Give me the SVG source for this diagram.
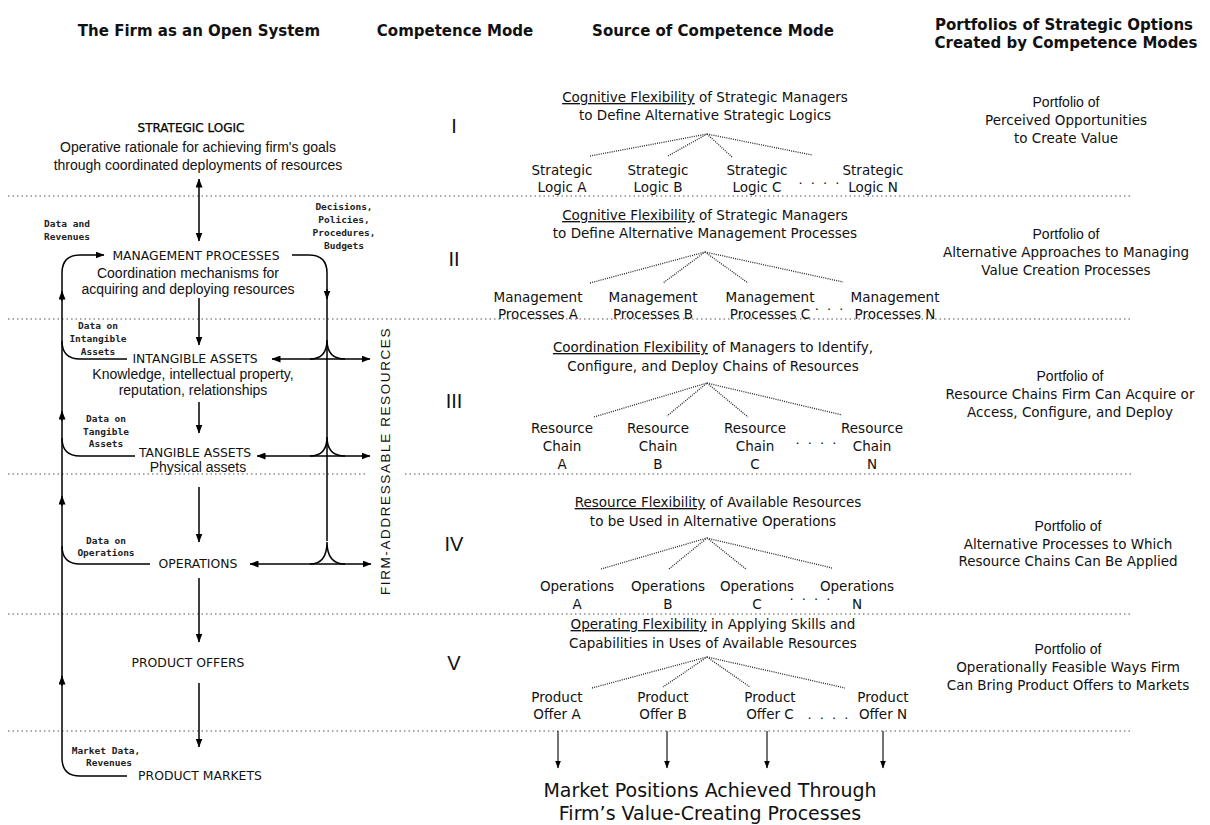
<svg xmlns="http://www.w3.org/2000/svg" width="1210" height="825" viewBox="0 0 1210 825">
<defs>
<marker id="ah" markerWidth="9" markerHeight="7" refX="8.5" refY="3.5" orient="auto-start-reverse" markerUnits="userSpaceOnUse">
<path d="M0,0 L9,3.5 L0,7 z" fill="#000"/>
</marker>
<marker id="ahs" markerWidth="8" markerHeight="6" refX="7.5" refY="3" orient="auto-start-reverse" markerUnits="userSpaceOnUse">
<path d="M0,0 L8,3 L0,6 z" fill="#000"/>
</marker>
<style>
.hdr{font-family:"DejaVu Sans",sans-serif;font-weight:bold;font-size:15px;fill:#111;text-anchor:middle}
.ttl{font-family:"DejaVu Sans",sans-serif;font-size:12.4px;fill:#111;text-anchor:middle}
.ttlb{font-family:"DejaVu Sans",sans-serif;font-size:12px;fill:#000;stroke:#000;stroke-width:0.25;text-anchor:middle}
.desc{font-family:"Liberation Sans",Arial,sans-serif;font-size:14px;fill:#111;text-anchor:middle}
.sm{font-family:"DejaVu Sans Mono",monospace;font-size:9.5px;font-weight:bold;fill:#222;text-anchor:middle}
.mid{font-family:"DejaVu Sans",sans-serif;font-size:13.5px;fill:#111;text-anchor:middle}
.big{font-family:"DejaVu Sans",sans-serif;font-size:19px;fill:#111;text-anchor:middle}
.num{font-family:"Liberation Sans",sans-serif;font-size:20px;fill:#111;text-anchor:middle}
.pf{font-family:"Liberation Sans",sans-serif;font-size:14px;fill:#111;text-anchor:middle}
.rt{font-family:"DejaVu Sans",sans-serif;font-size:13.5px;fill:#111;text-anchor:middle}
.vt{font-family:"Liberation Sans",sans-serif;font-size:13.5px;letter-spacing:1.6px;fill:#111;text-anchor:middle}
.dots{font-family:"DejaVu Sans",sans-serif;font-size:13px;fill:#111;text-anchor:middle;letter-spacing:2px}
.u{text-decoration:underline}
.div{stroke:#555;stroke-width:1.2;stroke-dasharray:1.5 3;fill:none}
.fan{stroke:#222;stroke-width:1.3;stroke-dasharray:1 1.2;fill:none}
.ln{stroke:#000;stroke-width:1.5;fill:none}
.thin{stroke:#000;stroke-width:1.1;fill:none}
</style>
</defs>
<rect width="1210" height="825" fill="#fff"/>

<g id="headers">
<text class="hdr" x="199" y="36">The Firm as an Open System</text>
<text class="hdr" x="455" y="36">Competence Mode</text>
<text class="hdr" x="713" y="36">Source of Competence Mode</text>
<text class="hdr" x="1064" y="30">Portfolios of Strategic Options</text>
<text class="hdr" x="1066" y="48">Created by Competence Modes</text>
</g>

<g id="dividers">
<path class="div" d="M8 196H1133M8 319H1133M8 474H367M405 474H1133M8 614H1133M8 731H1133"/>
</g>

<g id="connectors">
<path class="ln" d="M199 241V179" marker-start="url(#ah)" marker-end="url(#ah)"/>
<path class="ln" d="M199 298V345" marker-end="url(#ah)"/>
<path class="ln" d="M199 402V433" marker-end="url(#ah)"/>
<path class="ln" d="M199 487V542" marker-end="url(#ah)"/>
<path class="ln" d="M199 578V642" marker-end="url(#ah)"/>
<path class="ln" d="M199 683V747" marker-end="url(#ah)"/>
<path class="ln" d="M127 776H80Q62 776 62 758V273Q62 255 80 255H104" marker-end="url(#ah)"/>
<path class="ln" d="M127 359H80Q62 359 62 341"/>
<path class="ln" d="M135 456H80Q62 456 62 438"/>
<path class="ln" d="M150 564H80Q62 564 62 546"/>
<path class="ln" d="M62 301V291" marker-end="url(#ah)"/>
<path class="ln" d="M62 421V411" marker-end="url(#ah)"/>
<path class="ln" d="M62 506V496" marker-end="url(#ah)"/>
<path class="ln" d="M62 686V676" marker-end="url(#ah)"/>
<path class="ln" d="M292 255H309Q327 255 327 273V541"/>
<path class="ln" d="M327 289V299" marker-end="url(#ah)"/>
<path class="ln" d="M310 359Q327 359 327 340Q327 359 345 359"/>
<path class="ln" d="M310 456Q327 456 327 437Q327 456 345 456"/>
<path class="ln" d="M310 564Q327 564 327 542Q327 564 345 564"/>
<path class="ln" d="M272 359H370" marker-start="url(#ah)" marker-end="url(#ah)"/>
<path class="ln" d="M257 456H370" marker-start="url(#ah)" marker-end="url(#ah)"/>
<path class="ln" d="M250 564H371" marker-start="url(#ah)" marker-end="url(#ah)"/>
<path class="fan" d="M590 156L707 134L668 156M707 134L732 157M707 134L812 155"/>
<path class="fan" d="M590 283L705 252L663 283M705 252L748 283M705 252L843 282"/>
<path class="fan" d="M594 417L707 383L667 416M707 383L748 417M707 383L842 415"/>
<path class="fan" d="M601 569L707 538L669 569M707 538L746 569M707 538L832 568"/>
<path class="fan" d="M592 688L707 657L663 687M707 657L750 687M707 657L845 688"/>
<path class="thin" d="M558 731V768" marker-end="url(#ahs)"/>
<path class="thin" d="M667 731V768" marker-end="url(#ahs)"/>
<path class="thin" d="M767 731V768" marker-end="url(#ahs)"/>
<path class="thin" d="M883 731V768" marker-end="url(#ahs)"/>
</g>

<g id="strategic-logic">
<text class="ttlb" x="191" y="132">STRATEGIC  LOGIC</text>
<text class="desc" x="198" y="152">Operative rationale for achieving firm's goals</text>
<text class="desc" x="198" y="170">through coordinated  deployments of resources</text>
</g>
<g id="label-data-revenues">
<text class="sm" x="67" y="227">Data and</text>
<text class="sm" x="67" y="240">Revenues</text>
</g>
<g id="label-decisions">
<text class="sm" x="344" y="210">Decisions,</text>
<text class="sm" x="344" y="223">Policies,</text>
<text class="sm" x="344" y="236">Procedures,</text>
<text class="sm" x="344" y="249">Budgets</text>
</g>
<g id="management-processes">
<text class="ttl" x="196" y="260">MANAGEMENT  PROCESSES</text>
<text class="desc" x="188" y="278">Coordination mechanisms for</text>
<text class="desc" x="188" y="294">acquiring and deploying resources</text>
</g>
<g id="label-data-intangible">
<text class="sm" x="98" y="329">Data on</text>
<text class="sm" x="98" y="342">Intangible</text>
<text class="sm" x="98" y="355">Assets</text>
</g>
<g id="intangible-assets">
<text class="ttl" x="195" y="363">INTANGIBLE  ASSETS</text>
<text class="desc" x="193" y="379">Knowledge, intellectual property,</text>
<text class="desc" x="193" y="395">reputation, relationships</text>
</g>
<g id="label-data-tangible">
<text class="sm" x="106" y="422">Data on</text>
<text class="sm" x="106" y="435">Tangible</text>
<text class="sm" x="106" y="447">Assets</text>
</g>
<g id="tangible-assets">
<text class="ttl" x="195" y="457">TANGIBLE  ASSETS</text>
<text class="desc" x="198" y="472">Physical assets</text>
</g>
<g id="label-data-operations">
<text class="sm" x="106" y="544">Data on</text>
<text class="sm" x="106" y="556">Operations</text>
</g>
<g id="operations">
<text class="ttl" x="198" y="568">OPERATIONS</text>
</g>
<g id="product-offers">
<text class="ttl" x="188" y="667">PRODUCT  OFFERS</text>
</g>
<g id="label-market-data">
<text class="sm" x="106" y="754">Market Data,</text>
<text class="sm" x="109" y="766">Revenues</text>
</g>
<g id="product-markets">
<text class="ttl" x="200" y="780">PRODUCT  MARKETS</text>
</g>
<g id="firm-addressable-resources">
<text class="vt" transform="translate(390 461) rotate(-90)">FIRM-ADDRESSABLE  RESOURCES</text>
</g>

<g id="modes">
<text class="num" x="454" y="133">I</text>
<text class="num" x="454" y="266">II</text>
<text class="num" x="454" y="408">III</text>
<text class="num" x="454" y="551">IV</text>
<text class="num" x="454" y="670">V</text>
</g>

<g id="source-I">
<text class="mid" x="705" y="102"><tspan class="u">Cognitive  Flexibility</tspan> of Strategic Managers</text>
<text class="mid" x="705" y="120">to Define Alternative Strategic Logics</text>
<text class="mid" x="562" y="175">Strategic</text><text class="mid" x="562" y="192">Logic A</text>
<text class="mid" x="658" y="175">Strategic</text><text class="mid" x="658" y="192">Logic B</text>
<text class="mid" x="757" y="175">Strategic</text><text class="mid" x="757" y="192">Logic C</text>
<text class="mid" x="873" y="175">Strategic</text><text class="mid" x="873" y="192">Logic N</text>
<text class="dots" x="820" y="188">· · · ·</text>
</g>
<g id="source-II">
<text class="mid" x="705" y="220"><tspan class="u">Cognitive  Flexibility</tspan> of Strategic Managers</text>
<text class="mid" x="705" y="238">to Define Alternative Management Processes</text>
<text class="mid" x="538" y="302">Management</text><text class="mid" x="538" y="319">Processes  A</text>
<text class="mid" x="653" y="302">Management</text><text class="mid" x="653" y="319">Processes  B</text>
<text class="mid" x="770" y="302">Management</text><text class="mid" x="770" y="319">Processes  C</text>
<text class="mid" x="895" y="302">Management</text><text class="mid" x="895" y="319">Processes  N</text>
<text class="dots" x="830" y="314">· · ·</text>
</g>
<g id="source-III">
<text class="mid" x="713" y="352"><tspan class="u">Coordination  Flexibility</tspan> of Managers to Identify,</text>
<text class="mid" x="713" y="371">Configure, and Deploy Chains of Resources</text>
<text class="mid" x="562" y="433">Resource</text><text class="mid" x="562" y="451">Chain</text><text class="mid" x="562" y="469">A</text>
<text class="mid" x="658" y="433">Resource</text><text class="mid" x="658" y="451">Chain</text><text class="mid" x="658" y="469">B</text>
<text class="mid" x="755" y="433">Resource</text><text class="mid" x="755" y="451">Chain</text><text class="mid" x="755" y="469">C</text>
<text class="mid" x="872" y="433">Resource</text><text class="mid" x="872" y="451">Chain</text><text class="mid" x="872" y="469">N</text>
<text class="dots" x="817" y="448">· · · ·</text>
</g>
<g id="source-IV">
<text class="mid" x="718" y="507"><tspan class="u">Resource  Flexibility</tspan> of Available Resources</text>
<text class="mid" x="713" y="526">to be Used in Alternative Operations</text>
<text class="mid" x="577" y="591">Operations</text><text class="mid" x="577" y="609">A</text>
<text class="mid" x="668" y="591">Operations</text><text class="mid" x="668" y="609">B</text>
<text class="mid" x="757" y="591">Operations</text><text class="mid" x="757" y="609">C</text>
<text class="mid" x="857" y="591">Operations</text><text class="mid" x="857" y="609">N</text>
<text class="dots" x="811" y="604">· · · ·</text>
</g>
<g id="source-V">
<text class="mid" x="713" y="629"><tspan class="u">Operating  Flexibility</tspan> in Applying Skills and</text>
<text class="mid" x="713" y="648">Capabilities in Uses of Available Resources</text>
<text class="mid" x="557" y="702">Product</text><text class="mid" x="557" y="719">Offer A</text>
<text class="mid" x="663" y="702">Product</text><text class="mid" x="663" y="719">Offer B</text>
<text class="mid" x="770" y="702">Product</text><text class="mid" x="770" y="719">Offer C</text>
<text class="mid" x="883" y="702">Product</text><text class="mid" x="883" y="719">Offer N</text>
<text class="dots" x="829" y="719">. . . .</text>
</g>
<g id="market-positions">
<text class="big" x="710" y="797">Market Positions Achieved Through</text>
<text class="big" x="710" y="820">Firm’s Value-Creating Processes</text>
</g>

<g id="portfolio-I">
<text class="pf" x="1066" y="107">Portfolio of</text>
<text class="rt" x="1066" y="125">Perceived Opportunities</text>
<text class="rt" x="1066" y="143">to Create Value</text>
</g>
<g id="portfolio-II">
<text class="pf" x="1066" y="239">Portfolio of</text>
<text class="rt" x="1066" y="257">Alternative Approaches to Managing</text>
<text class="rt" x="1066" y="275">Value Creation Processes</text>
</g>
<g id="portfolio-III">
<text class="pf" x="1070" y="381">Portfolio of</text>
<text class="rt" x="1070" y="399">Resource Chains Firm Can Acquire or</text>
<text class="rt" x="1070" y="417">Access, Configure, and Deploy</text>
</g>
<g id="portfolio-IV">
<text class="pf" x="1068" y="531">Portfolio of</text>
<text class="rt" x="1068" y="549">Alternative Processes to Which</text>
<text class="rt" x="1068" y="566">Resource Chains Can Be Applied</text>
</g>
<g id="portfolio-V">
<text class="pf" x="1068" y="654">Portfolio of</text>
<text class="rt" x="1068" y="672">Operationally Feasible Ways Firm</text>
<text class="rt" x="1068" y="690">Can Bring Product Offers to Markets</text>
</g>
</svg>
